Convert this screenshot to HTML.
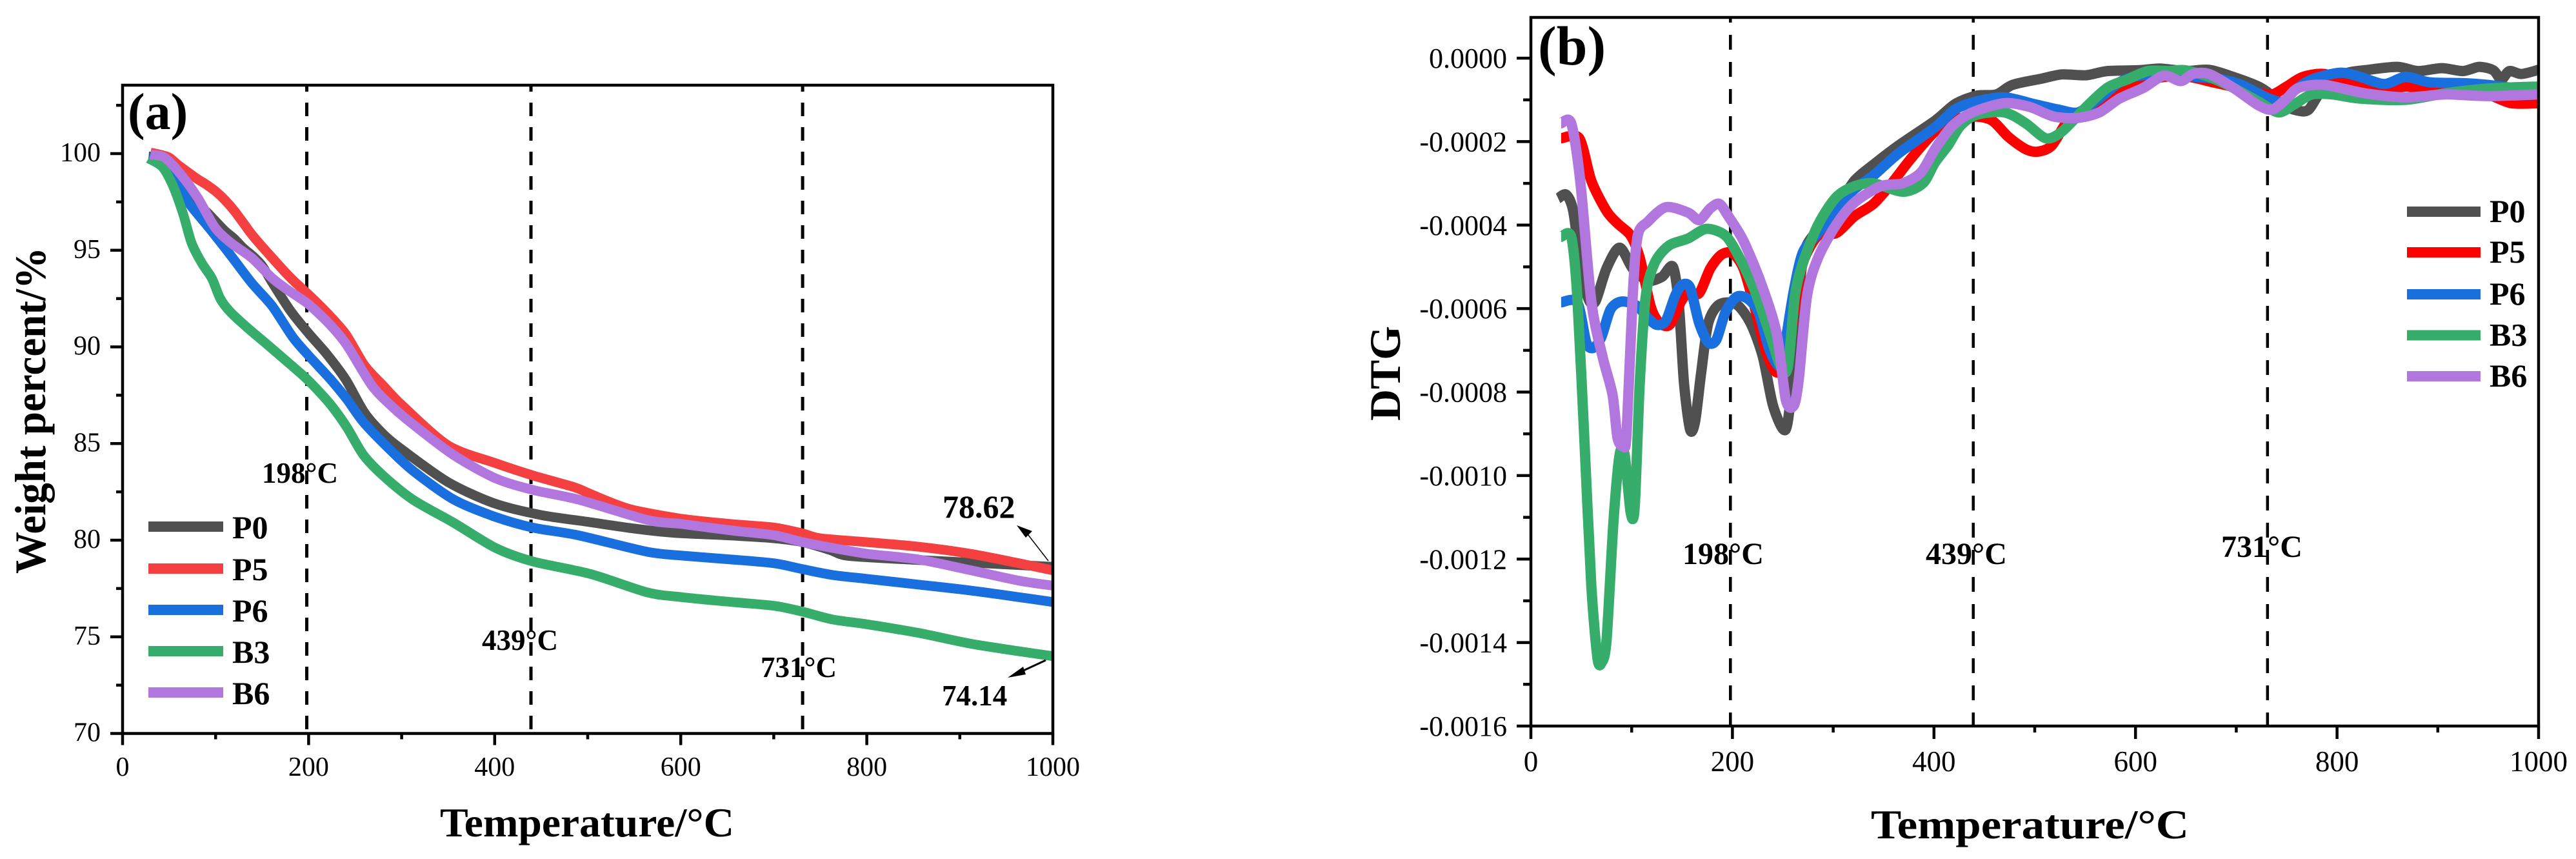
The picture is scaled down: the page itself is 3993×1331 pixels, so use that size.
<!DOCTYPE html>
<html lang="en">
<head>
<meta charset="utf-8">
<title>TG and DTG curves</title>
<style>
html,body{margin:0;padding:0;background:#fff;}
svg{display:block;}
text{font-family:"Liberation Serif",serif;fill:#000;}
</style>
</head>
<body>
<svg id="figure" xmlns="http://www.w3.org/2000/svg" width="3993" height="1331" viewBox="0 0 3993 1331">
<rect x="0" y="0" width="3993" height="1331" fill="#ffffff"/>
<g id="panel-a"></g>
<g id="panel-b"></g>
</svg>
<script>
// ---------- shared ----------
const seriesNames = ['P0','P5','P6','B3','B6'];
const xTickLabels = ['0','200','400','600','800','1000'];
const xMinorTicks = [100,300,500,700,900];
const peakTemps = [198,439,731];
const peakLabels = ['198°C','439°C','731°C'];

// ---------- panel (a) weight percent ----------
const aYTickLabels = ['70','75','80','85','90','95','100'];
const aYMinorTicks = [72.5,77.5,82.5,87.5,92.5,97.5,102.5];

const aP0Temps = [28,40,50,60,70,80,90,100,110,120,130,140,150,160,180,200,220,240,260,280,300,350,400,450,500,550,593,650,700,731,760,778,825,911,1000];
const aP0Values = [99.85,99.8,99.3,98.6,97.9,97.4,97,96.5,96,95.6,95.1,94.7,94.2,93.4,91.9,90.7,89.6,88.3,86.6,85.5,84.7,83,81.9,81.3,80.95,80.6,80.38,80.25,80.1,79.9,79.5,79.2,79.05,78.84,78.62];

const aP5Temps = [30,40,50,60,70,80,90,100,110,120,130,140,160,180,200,220,240,260,280,300,350,400,441,485,500,525,550,602,655,701,731,750,800,856,911,964,1000];
const aP5Values = [100.05,99.95,99.8,99.4,99.05,98.7,98.4,98.05,97.6,97.05,96.4,95.75,94.65,93.6,92.7,91.75,90.65,89.05,88,87,84.9,84,83.35,82.75,82.45,81.95,81.55,81.1,80.83,80.65,80.35,80.1,79.9,79.66,79.3,78.8,78.44];

const aP6Temps = [28,46,59,72,94,116,139,161,183,200,223,241,259,285,312,356,401,441,490,564,602,655,701,731,763,800,856,911,964,1000];
const aP6Values = [99.8,99.55,98.6,97.4,96.1,94.75,93.3,92.1,90.5,89.55,88.35,87.3,86.1,84.8,83.6,82.1,81.2,80.65,80.25,79.4,79.2,79,78.8,78.5,78.2,78,77.7,77.4,77.05,76.8];

const aB3Temps = [28,43,54,65,74,85,96,105,116,134,156,179,200,223,241,259,281,312,356,401,441,503,564,602,655,701,731,763,800,856,911,964,1000];
const aB3Values = [99.75,99.3,98.35,96.9,95.4,94.35,93.55,92.5,91.8,91,90.1,89.15,88.25,87.05,85.85,84.4,83.3,82.1,80.9,79.6,78.9,78.25,77.3,77.05,76.8,76.6,76.3,75.9,75.65,75.2,74.65,74.25,74];

const aB6Temps = [30,45,63,81,99,116,139,161,179,200,223,241,268,290,312,356,401,441,490,564,602,655,701,731,763,800,856,911,964,1000];
const aB6Values = [99.95,99.8,98.9,97.7,96.2,95.4,94.6,93.55,92.9,92.2,91.15,90.1,88,86.9,86,84.4,83.2,82.6,82.1,81.05,80.83,80.5,80.25,79.9,79.6,79.3,79,78.45,77.9,77.65];

// ---------- panel (b) DTG ----------
const bYTickLabels = ['0.0000','-0.0002','-0.0004','-0.0006','-0.0008','-0.0010','-0.0012','-0.0014','-0.0016'];
const bYMinorTicks = [-0.0001,-0.0003,-0.0005,-0.0007,-0.0009,-0.0011,-0.0013,-0.0015];

const bP0Temps = [27,35,42,49,57,64,75,88,101,116,130,141,147,152,158,163,169,176,187,204,218,230,240,250,255,262,270,285,303,321,340,365,401,421,442,462,478,507,527,551,572,604,624,649,673,697,722,734,746,762,772,785,807,831,860,880,904,925,941,955,963,971,983,1000];
const bP0Values = [-0.000336,-0.000327,-0.000366,-0.00049,-0.000576,-0.000583,-0.000504,-0.000454,-0.000504,-0.000533,-0.000524,-0.0005,-0.000596,-0.00078,-0.00089,-0.00087,-0.000753,-0.000635,-0.00059,-0.00059,-0.000635,-0.000714,-0.00083,-0.000888,-0.00087,-0.00071,-0.000478,-0.00041,-0.00036,-0.000294,-0.000255,-0.000209,-0.00015,-0.00011,-0.00009,-0.000087,-0.000064,-0.000049,-0.000039,-0.000041,-0.000031,-0.000029,-0.000025,-0.000031,-0.000028,-0.000045,-0.000068,-0.000087,-0.000113,-0.000126,-0.000123,-0.000077,-0.000038,-0.000028,-0.000021,-0.000031,-0.000024,-0.000031,-0.000021,-0.000029,-0.000051,-0.000031,-0.000038,-0.000028];

const bP5Temps = [30,48,60,75,86,99,108,119,128,138,149,156,167,178,189,200,211,222,233,244,255,262,270,285,303,321,340,358,377,401,421,442,458,474,491,503,517,535,556,576,600,628,653,677,701,722,736,750,766,787,815,847,868,892,925,949,973,1000];
const bP5Values = [-0.000192,-0.000192,-0.000294,-0.000366,-0.000396,-0.000425,-0.000478,-0.000596,-0.000635,-0.000638,-0.000583,-0.000563,-0.000563,-0.000504,-0.000471,-0.000467,-0.000504,-0.000596,-0.0007,-0.000753,-0.000714,-0.000596,-0.00049,-0.000425,-0.000419,-0.000379,-0.000349,-0.0003,-0.000241,-0.000176,-0.000147,-0.00014,-0.00015,-0.000189,-0.000218,-0.000224,-0.000209,-0.000143,-0.000117,-0.00009,-0.000064,-0.000045,-0.000045,-0.000058,-0.000071,-0.000084,-0.000087,-0.000068,-0.000045,-0.000038,-0.000058,-0.000077,-0.000068,-0.000077,-0.000084,-0.000087,-0.000108,-0.000108];

const bP6Temps = [30,46,55,62,70,79,90,105,116,125,134,143,150,158,167,176,184,193,204,215,226,237,248,253,261,270,285,303,321,340,365,401,421,442,470,499,523,543,564,584,604,633,661,685,705,730,746,758,775,803,823,847,868,892,925,949,973,1000];
const bP6Values = [-0.000585,-0.000585,-0.000681,-0.000694,-0.000668,-0.000602,-0.000583,-0.000593,-0.000622,-0.000639,-0.000629,-0.00057,-0.000543,-0.00055,-0.000635,-0.000681,-0.000675,-0.000609,-0.000572,-0.000576,-0.000609,-0.0007,-0.00074,-0.000675,-0.000556,-0.000465,-0.000419,-0.00036,-0.000314,-0.000281,-0.000228,-0.000166,-0.000123,-0.000104,-0.000094,-0.00011,-0.000123,-0.00013,-0.000097,-0.000058,-0.000042,-0.000038,-0.000045,-0.000051,-0.000064,-0.000094,-0.000104,-0.000077,-0.000051,-0.000035,-0.000045,-0.000062,-0.000045,-0.000058,-0.00006,-0.000064,-0.000071,-0.000077];

const bB3Temps = [30,40,46,53,60,66,70,75,82,88,93,99,103,108,114,123,137,156,174,193,207,222,237,248,255,262,270,285,303,321,340,369,389,401,414,426,442,470,491,511,527,551,572,592,612,633,649,673,697,722,742,758,775,795,823,868,908,949,1000];
const bB3Values = [-0.000428,-0.000428,-0.00057,-0.00091,-0.001265,-0.001436,-0.001449,-0.001396,-0.001108,-0.00095,-0.00095,-0.001088,-0.001075,-0.00078,-0.00057,-0.00049,-0.000449,-0.000432,-0.000409,-0.000425,-0.000478,-0.000556,-0.00066,-0.00074,-0.00074,-0.00057,-0.00049,-0.000399,-0.000333,-0.000307,-0.0003,-0.00032,-0.0003,-0.00025,-0.000209,-0.000163,-0.000136,-0.00013,-0.000156,-0.000192,-0.000176,-0.000117,-0.000071,-0.000051,-0.000031,-0.000031,-0.000029,-0.000045,-0.000071,-0.000104,-0.00013,-0.00011,-0.000087,-0.000087,-0.000097,-0.0001,-0.000084,-0.000073,-0.000068];

const bB6Temps = [30,40,49,60,71,81,86,92,95,101,106,116,134,156,167,178,187,196,211,229,244,253,261,266,274,285,303,321,347,369,387,401,418,438,470,495,519,543,564,584,608,628,645,657,673,697,722,736,750,762,787,827,868,908,949,1000];
const bB6Values = [-0.000156,-0.000156,-0.000294,-0.000583,-0.000714,-0.000806,-0.00091,-0.00093,-0.000898,-0.00057,-0.000425,-0.000392,-0.000357,-0.00037,-0.000388,-0.00036,-0.000349,-0.000379,-0.000438,-0.000543,-0.00066,-0.000819,-0.000832,-0.000766,-0.00057,-0.000478,-0.000399,-0.000346,-0.000307,-0.0003,-0.000274,-0.000218,-0.000163,-0.00013,-0.000108,-0.000117,-0.00014,-0.000143,-0.00013,-0.000097,-0.000071,-0.000042,-0.000055,-0.000038,-0.000038,-0.000071,-0.000113,-0.000123,-0.000097,-0.000071,-0.000064,-0.000084,-0.000094,-0.000087,-0.000091,-0.000087];

const NS = 'http://www.w3.org/2000/svg';
function mk(parent, tag, attrs, txt){
  const el = document.createElementNS(NS, tag);
  for (const k in attrs) el.setAttribute(k, attrs[k]);
  if (txt !== undefined) el.textContent = txt;
  parent.appendChild(el);
  return el;
}
function smoothPath(pts){
  let d = 'M' + pts[0][0].toFixed(1) + ' ' + pts[0][1].toFixed(1);
  const t = 0.14;
  for (let i = 0; i < pts.length - 1; i++){
    const p0 = pts[Math.max(0, i - 1)], p1 = pts[i], p2 = pts[i + 1], p3 = pts[Math.min(pts.length - 1, i + 2)];
    const c1x = p1[0] + (p2[0] - p0[0]) * t, c1y = p1[1] + (p2[1] - p0[1]) * t;
    const c2x = p2[0] - (p3[0] - p1[0]) * t, c2y = p2[1] - (p3[1] - p1[1]) * t;
    d += 'C' + c1x.toFixed(1) + ' ' + c1y.toFixed(1) + ' ' + c2x.toFixed(1) + ' ' + c2y.toFixed(1) + ' ' + p2[0].toFixed(1) + ' ' + p2[1].toFixed(1);
  }
  return d;
}

function drawPanel(cfg){
  const g = document.getElementById(cfg.id);
  const L = cfg.left, R = cfg.right, T = cfg.top, B = cfg.bottom;
  const xS = v => L + (v - 0) / 1000 * (R - L);
  const yS = v => B - (v - cfg.yMin) / (cfg.yMax - cfg.yMin) * (B - T);

  // dashed peak lines
  peakTemps.forEach((p, i) => {
    const ln = mk(g, 'line', {x1:xS(p), x2:xS(p), y1:T, y2:B, stroke:'#000', 'stroke-width':cfg.dashWidth, 'stroke-dasharray':cfg.dash, 'stroke-dashoffset':cfg.dashOffset});
    
    
  });

  // series
  cfg.series.forEach((s, i) => {
    const pts = s.temps.map((t, j) => [xS(t), yS(s.values[j])]);
    const path = mk(g, 'path', {d:smoothPath(pts), fill:'none', stroke:cfg.colors[i], 'stroke-width':cfg.lineWidth, 'stroke-linejoin':'round', 'stroke-linecap':'butt'});
    
    
  });

  // frame
  const frame = mk(g, 'rect', {x:L, y:T, width:R - L, height:B - T, fill:'none', stroke:'#000', 'stroke-width':4.5});
  
  

  // x ticks
  xTickLabels.forEach(lab => {
    const v = parseFloat(lab);
    const tk = mk(g, 'line', {x1:xS(v), x2:xS(v), y1:B, y2:B + cfg.xMajor, stroke:'#000', 'stroke-width':4.5});
    
    
    const tx = mk(g, 'text', {x:xS(v) + cfg.xLabelShift, y:cfg.xLabelY, 'text-anchor':'middle', 'font-size':cfg.xFont}, lab);
    
    
  });
  xMinorTicks.forEach(v => {
    const tk = mk(g, 'line', {x1:xS(v), x2:xS(v), y1:B, y2:B + cfg.xMinor, stroke:'#000', 'stroke-width':4.5});
    
    
  });

  // y ticks
  cfg.yLabels.forEach(lab => {
    const v = parseFloat(lab);
    const tk = mk(g, 'line', {x1:L - cfg.yMajor, x2:L, y1:yS(v), y2:yS(v), stroke:'#000', 'stroke-width':4.5});
    
    
    const tx = mk(g, 'text', {x:cfg.yLabelX, y:yS(v) + cfg.yLabelDy, 'text-anchor':'end', 'font-size':cfg.yFont}, lab);
    
    
  });
  cfg.yMinors.forEach(v => {
    const tk = mk(g, 'line', {x1:L - cfg.yMinor, x2:L, y1:yS(v), y2:yS(v), stroke:'#000', 'stroke-width':4.5});
    
    
  });

  // axis titles
  const xt = mk(g, 'text', {x:cfg.xTitleX, y:cfg.xTitleY, 'font-size':64, 'font-weight':'bold', textLength:cfg.xTitleLen, lengthAdjust:'spacingAndGlyphs'}, 'Temperature/°C');
  
  
  const yt = mk(g, 'text', {x:0, y:0, 'font-size':68, 'font-weight':'bold', 'text-anchor':'start', textLength:cfg.yTitleLen, lengthAdjust:'spacingAndGlyphs', transform:'translate(' + cfg.yTitleX + ' ' + cfg.yTitleY + ') rotate(-90)'}, cfg.yTitle);
  
  

  // panel tag
  const tag = mk(g, 'text', {x:cfg.tagX, y:cfg.tagY, 'font-size':cfg.tagFont, 'font-weight':'bold'}, cfg.tag);
  
  

  // peak labels
  peakLabels.forEach((lab, i) => {
    const tx = mk(g, 'text', {x:cfg.peakX[i], y:cfg.peakY[i], 'font-size':cfg.peakFont, 'font-weight':'bold'}, lab);
    
    
  });

  // legend
  seriesNames.forEach((n, i) => {
    const y = cfg.legendY[i];
    const sw = mk(g, 'line', {x1:cfg.legendX1, x2:cfg.legendX2, y1:y, y2:y, stroke:cfg.colors[i], 'stroke-width':16});
    
    
    const tx = mk(g, 'text', {x:cfg.legendTextX, y:y + cfg.legendDy, 'font-size':50, 'font-weight':'bold'}, n);
    
    
  });
  return g;
}

const gA = drawPanel({
  id:'panel-a', left:190, right:1632, top:132, bottom:1136.5, yMin:70, yMax:103.54,
  dash:'21 17', dashOffset:11, dashWidth:5, lineWidth:15,
  colors:['#505050','#f44040','#1a6fdf','#37ad6b','#b177de'],
  series:[{temps:aP0Temps,values:aP0Values},{temps:aP5Temps,values:aP5Values},{temps:aP6Temps,values:aP6Values},{temps:aB3Temps,values:aB3Values},{temps:aB6Temps,values:aB6Values}],
  xMajor:18, xMinor:9, yMajor:19, yMinor:10,
  xFont:42, xLabelY:1202, xLabelShift:0,
  yFont:42, yLabelX:156, yLabelDy:12,
  yLabels:aYTickLabels, yMinors:aYMinorTicks,
  xTitleX:682, xTitleY:1296, xTitleLen:456,
  yTitle:'Weight percent/%', yTitleX:70, yTitleY:889, yTitleLen:506,
  tag:'(a)', tagX:198, tagY:200, tagFont:80,
  peakX:[406,747,1179], peakY:[748,1007,1049], peakFont:45,
  legendX1:230, legendX2:346, legendTextX:360, legendDy:18,
  legendY:[816,881,945,1009,1073]
});

const gB = drawPanel({
  id:'panel-b', left:2373, right:3935, top:27, bottom:1125, yMin:-0.0016, yMax:0.0000975,
  dash:'23 19', dashOffset:15, dashWidth:4.5, lineWidth:16,
  colors:['#505050','#ff0000','#1a6fdf','#37ad6b','#b177de'],
  series:[{temps:bP0Temps,values:bP0Values},{temps:bP5Temps,values:bP5Values},{temps:bP6Temps,values:bP6Values},{temps:bB3Temps,values:bB3Values},{temps:bB6Temps,values:bB6Values}],
  xMajor:20, xMinor:10, yMajor:22, yMinor:12,
  xFont:45, xLabelY:1195, xLabelShift:0,
  yFont:44, yLabelX:2336, yLabelDy:15,
  yLabels:bYTickLabels, yMinors:bYMinorTicks,
  xTitleX:2900, xTitleY:1299, xTitleLen:493,
  yTitle:'DTG', yTitleX:2170, yTitleY:652, yTitleLen:147,
  tag:'(b)', tagX:2384, tagY:100, tagFont:86,
  peakX:[2608,2985,3443], peakY:[874,874,863], peakFont:48,
  legendX1:3731, legendX2:3845, legendTextX:3859, legendDy:16,
  legendY:[328,391,456,519.5,583]
});

// annotations for panel (a)
const endHigh = mk(gA, 'text', {x:1461, y:802, 'font-size':50, 'font-weight':'bold'}, '78.62');


const endLow = mk(gA, 'text', {x:1460, y:1093, 'font-size':45, 'font-weight':'bold'}, '74.14');



const arrowHigh = mk(gA, 'line', {x1:1625, y1:869, x2:1590, y2:824, stroke:'#000', 'stroke-width':1.5});


const arrowHighHead = mk(gA, 'polygon', {points:'1576,814 1600,823 1590,833', fill:'#000'});


const arrowLow = mk(gA, 'line', {x1:1621, y1:1023, x2:1580, y2:1042, stroke:'#000', 'stroke-width':3});


const arrowLowHead = mk(gA, 'polygon', {points:'1562,1050 1586,1033 1590,1045', fill:'#000'});


</script>
</body>
</html>
